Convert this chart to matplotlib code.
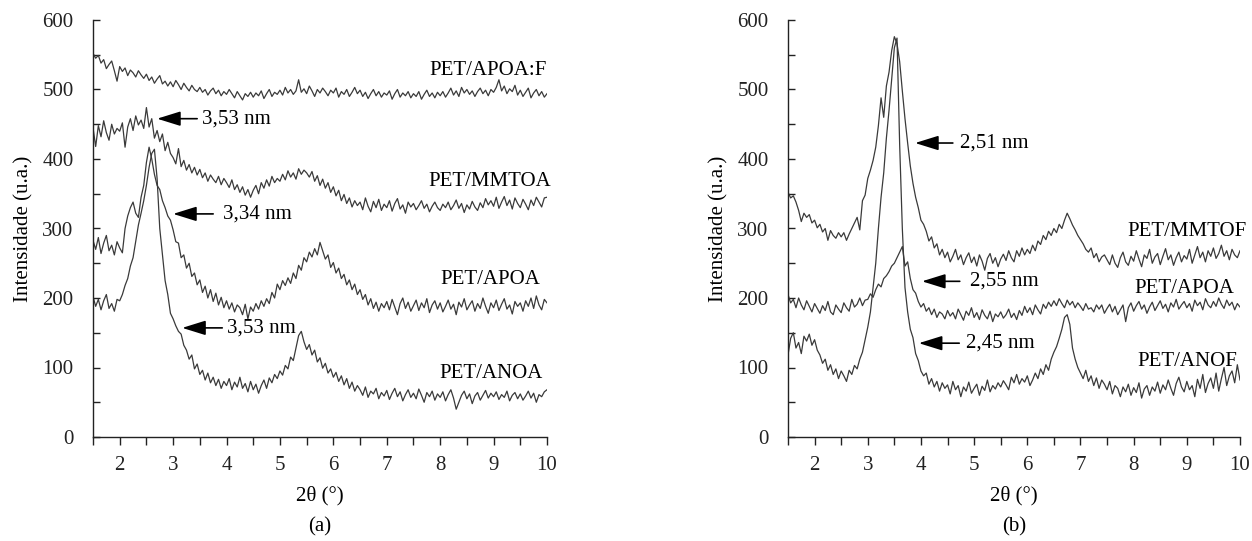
import numpy as np
import matplotlib
matplotlib.use("Agg")
import matplotlib.pyplot as plt
from matplotlib.ticker import MultipleLocator

plt.rcParams['font.family'] = ['Liberation Serif', 'DejaVu Serif']

# 2-theta sampling (degrees), 0.05 deg step from 1.5 to 10
two_theta = np.round(1.5 + 0.05 * np.arange(171), 2)

# ---------------- Panel (a) ----------------
a_apoaf = [552, 545, 549, 538, 543, 530, 536, 541, 527, 512,
           533, 526, 531, 520, 528, 524, 518, 527, 521, 516,
           522, 513, 518, 509, 515, 520, 508, 512, 505, 511,
           504, 513, 507, 500, 509, 503, 498, 506, 500, 497,
           503, 496, 500, 492, 498, 502, 494, 499, 491, 497,
           493, 500, 494, 488, 497, 491, 485, 494, 490, 496,
           489, 495, 491, 498, 487, 494, 500, 490, 496, 493,
           499, 492, 503, 495, 500, 493, 498, 514, 496, 501,
           494, 505, 498, 490, 500, 495, 502, 497, 491, 499,
           495, 502, 489, 497, 493, 500, 490, 496, 503, 494,
           499, 490, 496, 487, 494, 500, 491, 497, 489, 495,
           492, 498, 486, 494, 500, 489, 495, 491, 497, 488,
           494, 490, 497, 486, 493, 499, 490, 495, 488, 496,
           491, 497, 489, 495, 502, 492, 498, 490, 503, 495,
           500, 493, 498, 490, 497, 502, 494, 499, 491, 500,
           496, 503, 514, 498, 505, 494, 501, 497, 506, 492,
           499, 490, 496, 502, 488, 495, 500, 491, 497, 489,
           494]

a_mmtoa = [445, 418, 448, 432, 455, 438, 427, 450, 436, 444,
           440, 452, 417, 446, 458, 441, 462, 449, 456, 444,
           474, 446, 458, 430, 441, 425, 436, 412, 424, 408,
           402, 393, 415, 389, 398, 384, 392, 380, 388, 377,
           385, 373, 380, 368, 377, 371, 366, 375, 363, 372,
           366, 359, 370, 356, 363, 352, 360, 348, 356, 345,
           355, 362, 350, 366, 358, 370, 361, 375, 366, 372,
           368, 378, 370, 383, 374, 380, 371, 386, 378, 384,
           380, 374, 382, 368, 376, 362, 371, 358, 366, 352,
           360, 347, 355, 340, 349, 336, 344, 331, 340, 333,
           338, 327, 344, 332, 324, 339, 330, 342, 326, 335,
           330, 340, 325, 336, 343, 328, 334, 322, 338, 331,
           336, 327, 333, 340, 329, 335, 324, 332, 338, 330,
           326, 335, 330, 338, 327, 333, 341, 329, 336, 323,
           334, 328, 339, 331, 326, 337, 330, 343, 334, 340,
           332, 345, 329, 338, 346, 333, 341, 328, 344, 336,
           330, 342, 335, 327, 341, 333, 345, 338, 331, 344,
           345]

a_apoa = [283, 270, 287, 264, 279, 290, 268, 276, 262, 281,
          272, 265, 300, 318, 330, 338, 322, 316, 345, 362,
          395, 417, 400, 378, 362, 356, 340, 330, 318, 312,
          298, 281, 279, 258, 262, 243, 250, 231, 236, 219,
          226, 208, 217, 200, 212, 195, 207, 190, 201, 186,
          196, 184, 193, 180, 190, 186, 176, 191, 170, 187,
          181, 192, 184, 196, 188, 199, 192, 208, 200, 220,
          212, 225, 218, 229, 221, 236, 228, 247, 240, 258,
          252, 266, 259, 271, 262, 280, 268, 256, 262, 244,
          251, 236, 243, 228, 234, 219, 226, 212, 220, 205,
          212, 198, 205, 190, 199, 185, 194, 181, 192, 186,
          195, 183, 198, 187, 176, 192, 200, 185, 194, 181,
          189, 197, 182, 193, 186, 199, 179, 190, 196, 184,
          193, 180, 188, 197, 184, 191, 176, 194, 187, 199,
          183, 190, 196, 181, 192, 185, 200, 188, 178, 193,
          186, 197, 182, 191, 199, 184, 190, 177, 195, 188,
          193, 181, 196, 188, 200, 185, 203, 190, 183, 198,
          193]

a_anoa = [202, 188, 198, 183, 196, 205, 185, 192, 181, 198,
          196, 205, 218, 228, 246, 258, 282, 305, 322, 340,
          362, 388, 408, 414, 372, 300, 262, 225, 205, 178,
          170, 160, 152, 148, 132, 125, 112, 118, 98, 105,
          90, 96, 82, 92, 78, 86, 74, 83, 70, 80,
          74, 84, 68, 79, 72, 86, 70, 77, 65, 80,
          68, 76, 63, 74, 82, 70, 85, 78, 90, 84,
          95, 89, 103, 98, 115, 110, 128, 146, 152, 137,
          126, 133, 118, 125, 108, 114, 99, 106, 92, 98,
          86, 93, 80, 88, 75, 84, 70, 79, 66, 74,
          68, 60, 72, 57, 66, 62, 70, 55, 64, 59,
          67, 54, 63, 70, 58, 65, 52, 61, 68, 57,
          63, 55, 69, 60, 50, 64, 58, 66, 53, 62,
          57, 65, 52, 61, 68, 56, 40, 50, 60, 66,
          55, 62, 48, 59, 64, 53, 60, 67, 56, 63,
          58, 65, 54, 61, 57, 66, 52, 60, 64, 55,
          62, 53, 59, 66, 56, 63, 50, 61, 58, 65,
          68]

# ---------------- Panel (b) ----------------
b_mmtof = [352, 344, 347, 338, 326, 310, 322, 316, 320, 308,
           312, 301, 306, 295, 300, 283, 297, 290, 286, 294,
           288, 294, 283, 292, 300, 308, 316, 298, 340, 348,
           372, 384, 398, 417, 448, 488, 460, 505, 525, 556,
           576, 566, 540, 498, 458, 423, 390, 365, 345, 330,
           312, 306, 296, 282, 288, 272, 278, 262, 270, 258,
           266, 252, 260, 270, 255, 262, 248, 258, 265, 251,
           259, 246, 262, 253, 240, 257, 264, 250, 258, 245,
           256, 263, 254, 268, 258, 252, 268, 260, 272, 262,
           270, 264, 276, 268, 282, 277, 290, 284, 296, 290,
           300, 294, 306, 300, 312, 322, 314, 305, 298, 290,
           284, 278, 270, 266, 272, 258, 264, 252, 259, 262,
           255, 248, 262, 250, 244, 258, 266, 252, 247, 260,
           253, 268, 256, 245, 262, 257, 270, 250, 259, 264,
           248, 260, 271, 255, 262, 247, 258, 266, 252, 261,
           256, 270, 250, 262, 274, 258, 266, 252, 268, 260,
           272, 257, 264, 276, 260, 268, 255, 270, 262, 258,
           268]

b_apoa = [205, 193, 198, 186, 200, 190, 183, 196, 188, 180,
          192, 185, 178, 189, 182, 195, 180, 176, 190, 184,
          179, 193, 186, 181, 198, 187, 191, 200, 189, 197,
          198, 206, 201, 212, 220, 216, 228, 232, 238, 246,
          250, 258, 266, 274, 246, 252, 228, 212, 207, 195,
          187, 192, 181, 186, 176, 184, 172, 180, 177, 170,
          182, 174, 179, 170, 184, 176, 168, 181, 175, 186,
          172, 179, 169, 183, 175, 170, 181, 166, 177, 173,
          180, 171, 176, 184, 172, 178, 169, 182, 175, 188,
          179, 186, 176, 190, 183, 177, 191, 185, 194, 188,
          196, 189, 199, 192, 186, 197, 190, 195, 186, 193,
          188, 182, 192, 184, 186, 180, 190, 184, 190, 178,
          185, 191, 180, 188, 176, 183, 190, 166, 186, 193,
          181, 189, 195, 184, 190, 178, 187, 194, 182, 189,
          196, 185, 191, 180, 193, 187, 198, 184, 190, 195,
          186, 192, 181, 197, 189, 194, 183, 199, 190, 186,
          195, 188, 200, 191, 185, 197, 189, 194, 183, 192,
          187]

b_anof = [118, 142, 150, 128, 136, 120, 145, 138, 148, 132,
          140, 125, 118, 106, 112, 96, 104, 90, 98, 84,
          95, 88, 80, 96, 90, 103, 98, 112, 122, 140,
          158, 180, 215, 250, 300, 345, 380, 430, 470, 515,
          560, 574, 420, 300, 215, 180, 155, 143, 120, 110,
          95, 88, 92, 76, 84, 72, 80, 66, 78, 70,
          75, 62, 80, 68, 74, 58, 72, 66, 79, 63,
          70, 76, 60, 73, 67, 82, 65, 74, 69, 78,
          72, 81, 75, 68, 86, 78, 90, 76, 84, 79,
          88, 74, 82, 92, 84, 98, 90, 104, 96, 112,
          122, 130, 142, 155, 172, 176, 162, 128, 112, 100,
          92, 84, 96, 80, 88, 74, 85, 70, 82, 76,
          68, 80, 62, 74, 70, 58, 72, 65, 76, 60,
          71, 64, 78, 56, 69, 74, 60, 72, 66, 79,
          63, 75, 68, 82, 70, 60, 77, 86, 72, 65,
          80, 68, 74, 58, 83, 70, 90, 64, 77, 85,
          70, 92, 66, 84, 100, 74, 88, 95, 78, 104,
          82]

a_labels = ["PET/APOA:F", "PET/MMTOA", "PET/APOA", "PET/ANOA"]
b_labels = ["PET/MMTOF", "PET/APOA", "PET/ANOF"]
a_notes = ["3,53 nm", "3,34 nm", "3,53 nm"]
b_notes = ["2,51 nm", "2,55 nm", "2,45 nm"]
x_ticks = [2, 3, 4, 5, 6, 7, 8, 9, 10]
y_ticks = [0, 100, 200, 300, 400, 500, 600]

for s in (a_apoaf, a_mmtoa, a_apoa, a_anoa, b_mmtof, b_apoa, b_anof):
    assert len(s) == len(two_theta)

LINE = '#3a3a3a'
FS = 15

fig = plt.figure(figsize=(12.52, 5.41), dpi=100)
axA = fig.add_axes([93/1252, 1-437/541, (547-93)/1252, (437-20)/541])
axB = fig.add_axes([788/1252, 1-437/541, (1240-788)/1252, (437-20)/541])

def style(ax):
    ax.set_xlim(1.5, 10)
    ax.set_ylim(0, 600)
    ax.set_xticks(x_ticks)
    ax.set_yticks(y_ticks)
    ax.xaxis.set_minor_locator(MultipleLocator(0.5))
    ax.yaxis.set_minor_locator(MultipleLocator(50))
    for sp in ('top', 'right'):
        ax.spines[sp].set_visible(False)
    for sp in ('left', 'bottom'):
        ax.spines[sp].set_linewidth(1.0)
        ax.spines[sp].set_color('#222222')
    ax.tick_params(axis='x', which='both', direction='out', length=6, width=1,
                   labelsize=FS, pad=8, colors='#222222')
    ax.tick_params(axis='y', which='both', direction='in', length=5, width=1,
                   labelsize=FS, pad=14, colors='#222222')
    ax.set_ylabel('Intensidade (u.a.)', fontsize=FS, labelpad=6)

style(axA)
style(axB)

for s in (a_apoaf, a_mmtoa, a_apoa, a_anoa):
    axA.plot(two_theta, s, color=LINE, lw=0.9)
for s in (b_mmtof, b_apoa, b_anof):
    axB.plot(two_theta, s, color=LINE, lw=0.9)

# curve labels
axA.text(10.0, 528, a_labels[0], ha='right', va='center', fontsize=FS)
axA.text(10.08, 367, a_labels[1], ha='right', va='center', fontsize=FS)
axA.text(9.88, 226, a_labels[2], ha='right', va='center', fontsize=FS)
axA.text(9.92, 92, a_labels[3], ha='right', va='center', fontsize=FS)

axB.text(10.13, 295, b_labels[0], ha='right', va='center', fontsize=FS, clip_on=False)
axB.text(9.9, 214, b_labels[1], ha='right', va='center', fontsize=FS)
axB.text(9.94, 108, b_labels[2], ha='right', va='center', fontsize=FS)

arrow = dict(arrowstyle='-|>,head_length=0.9,head_width=0.28', color='black',
             lw=1.2, shrinkA=0, shrinkB=0, mutation_scale=16)

def note(ax, tip, tail, textx, y, s):
    ax.annotate('', xy=(tip, y), xytext=(tail, y), arrowprops=arrow)
    ax.text(textx, y, s, ha='left', va='center', fontsize=FS)

note(axA, 2.70, 3.45, 3.54, 458, a_notes[0])
note(axA, 3.00, 3.75, 3.93, 321, a_notes[1])
note(axA, 3.17, 3.92, 4.01, 157, a_notes[2])

note(axB, 3.89, 4.60, 4.73, 423, b_notes[0])
note(axB, 4.02, 4.73, 4.92, 224, b_notes[1])
note(axB, 3.96, 4.72, 4.84, 135, b_notes[2])

# x labels and panel letters
for ax, letter in ((axA, '(a)'), (axB, '(b)')):
    bb = ax.get_position()
    cx = (bb.x0 + bb.x1) / 2
    fig.text(cx, 1 - 496/541, '2θ (°)', ha='center', va='center', fontsize=FS)
    fig.text(cx, 1 - 527/541, letter, ha='center', va='center', fontsize=FS)

fig.savefig('out.png', dpi=100)
